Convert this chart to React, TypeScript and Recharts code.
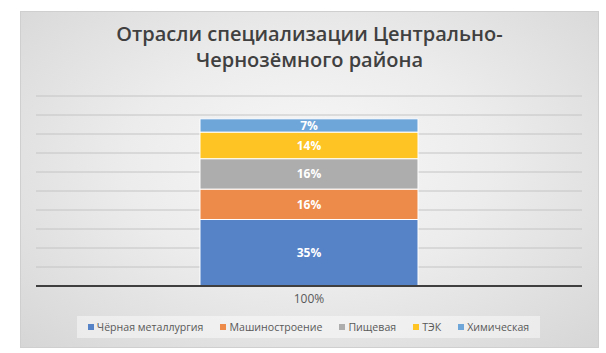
import React from 'react';
import { BarChart, Bar, XAxis, YAxis, CartesianGrid, LabelList } from 'recharts';

const categories = ['100%'];
const seriesNames = ['Чёрная металлургия', 'Машиностроение', 'Пищевая', 'ТЭК', 'Химическая'];
const seriesValues = [35, 16, 16, 14, 7];
const seriesColors = ['#5682C8', '#ED8B4A', '#ADADAD', '#FDC423', '#6FA6DA'];
const yTicks = [0, 10, 20, 30, 40, 50, 60, 70, 80, 90, 100];
const titleLines = ['Отрасли специализации Центрально-', 'Чернозёмного района'];

const keys = seriesNames.map((_, i) => `s${i}`);

// one row per category, one column per series
const data = categories.map((name) => {
  const row: Record<string, string | number> = { name };
  keys.forEach((k, i) => {
    row[k] = seriesValues[i];
  });
  return row;
});

const font = '"Open Sans", "Liberation Sans", sans-serif';

const App: React.FC = () => {
  return (
    <div style={{ position: 'absolute', left: 0, top: 0, width: 606, height: 353, background: '#fff', fontFamily: font }}>
      {/* chart frame */}
      <div
        style={{
          position: 'absolute',
          left: 20,
          top: 11,
          width: 577,
          height: 335,
          border: '1px solid #cfcfcf',
          background: 'radial-gradient(ellipse at 50% 45%, #f8f8f8 0%, #ececec 45%, #d6d6d6 100%)',
        }}
      />
      <div
        style={{
          position: 'absolute',
          left: 20,
          top: 21,
          width: 579,
          textAlign: 'center',
          color: '#404040',
          fontSize: 20,
          fontWeight: 600,
          lineHeight: '26px',
        }}
      >
        {titleLines.map((t) => (
          <div key={t}>{t}</div>
        ))}
      </div>
      <div style={{ position: 'absolute', left: 0, top: 0 }}>
        <BarChart width={606} height={353} data={data} margin={{ top: 96, right: 24, left: 36, bottom: 47 }} barSize={218}>
          <CartesianGrid vertical={false} stroke="#c4c4c4" />
          <YAxis
            width={0}
            domain={[0, 100]}
            ticks={yTicks}
            interval={0}
            tick={() => <g />}
            axisLine={false}
            tickLine={false}
          />
          <XAxis
            dataKey="name"
            height={20}
            tickLine={false}
            axisLine={{ stroke: '#3f3f3f', strokeWidth: 2 }}
            tick={{ fill: '#595959', fontSize: 12, fontFamily: font }}
          />
          {keys.map((k, i) => (
            <Bar key={k} dataKey={k} stackId="a" fill={seriesColors[i]} stroke="#ffffff" strokeWidth={1} isAnimationActive={false}>
              <LabelList
                dataKey={k}
                position="center"
                formatter={(v: number) => `${v}%`}
                fill="#ffffff"
                style={{ fontSize: 12, fontWeight: 700, fontFamily: font }}
              />
            </Bar>
          ))}
        </BarChart>
      </div>
      {/* legend */}
      <div
        style={{
          position: 'absolute',
          left: 77,
          top: 316,
          width: 463,
          height: 22,
          background: 'rgba(255,255,255,0.45)',
          display: 'flex',
          alignItems: 'center',
          justifyContent: 'center',
          gap: 17,
          fontSize: 10.6,
          color: '#595959',
        }}
      >
        {seriesNames.map((n, i) => (
          <div key={n} style={{ display: 'flex', alignItems: 'center', gap: 3 }}>
            <span style={{ width: 6, height: 6, background: seriesColors[i], display: 'inline-block' }} />
            <span>{n}</span>
          </div>
        ))}
      </div>
    </div>
  );
};

export default App;
